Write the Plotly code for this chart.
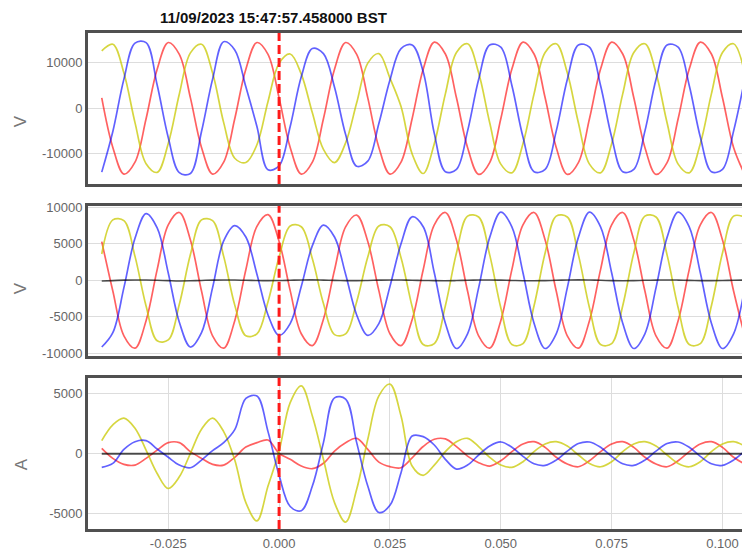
import plotly.graph_objects as go
from plotly.subplots import make_subplots

title_text = "11/09/2023 15:47:57.458000 BST"
unit_labels = ["V", "V", "A"]
x_tick_vals = [-0.025, 0.0, 0.025, 0.05, 0.075, 0.1]
x_tick_text = ["-0.025", "0.000", "0.025", "0.050", "0.075", "0.100"]
y1_ticks = [-10000, 0, 10000]
y2_ticks = [-10000, -5000, 0, 5000, 10000]
y3_ticks = [-5000, 0, 5000]

time_s = [-0.0400, -0.0375, -0.0350, -0.0325, -0.0300, -0.0275, -0.0250, -0.0225,
          -0.0200, -0.0175, -0.0150, -0.0125, -0.0100, -0.0075, -0.0050, -0.0025,
          0.0000, 0.0025, 0.0050, 0.0075, 0.0100, 0.0125, 0.0150, 0.0175,
          0.0200, 0.0225, 0.0250, 0.0275, 0.0300, 0.0325, 0.0350, 0.0375,
          0.0400, 0.0425, 0.0450, 0.0475, 0.0500, 0.0525, 0.0550, 0.0575,
          0.0600, 0.0625, 0.0650, 0.0675, 0.0700, 0.0725, 0.0750, 0.0775,
          0.0800, 0.0825, 0.0850, 0.0875, 0.0900, 0.0925, 0.0950, 0.0975,
          0.1000, 0.1025, 0.1050]

# Panel 1 - line voltages (V)
v_line_red = [2280, -8580, -14420, -11810, -2280, 8580, 14420, 11810,
              2280, -8580, -14420, -11810, -2280, 8580, 14420, 11810,
              2280, -8580, -14420, -11810, -2280, 8580, 14420, 11810,
              2280, -8580, -14420, -11810, -2280, 8580, 14500, 11900,
              2300, -8600, -14500, -11900, -2300, 8600, 14500, 11900,
              2300, -8600, -14500, -11900, -2300, 8600, 14500, 11900,
              2300, -8600, -14500, -11900, -2300, 8600, 14500, 11900,
              2300, -8600, -14500]
v_line_yellow = [12600, 14050, 7720, -3140, -12150, -14050, -7720, 3140,
                 12150, 14050, 7720, -3140, -10950, -11900, -8000, 1500,
                 9850, 11900, 7500, -1000, -9000, -11900, -7600, 1200,
                 9900, 12000, 6600, 370, -10000, -14300, -7770, 3160,
                 12240, 14150, 7770, -3160, -12240, -14150, -7770, 3160,
                 12240, 14150, 7770, -3160, -12240, -14150, -7770, 3160,
                 12240, 14150, 7770, -3160, -12240, -14150, -7770, 3160,
                 12240, 14150, 7770]
v_line_blue = [-14000, -5100, 6400, 14300, 14400, 5100, -6400, -14100,
               -14300, -5100, 6400, 14600, 12800, 4700, -4000, -13500,
               -12600, -4000, 6900, 13100, 12000, 4600, -5750, -12700,
               -11600, -3350, 6200, 13100, 13900, 8000, -5500, -13900,
               -13400, -5000, 6300, 13900, 13400, 5000, -6300, -13900,
               -13400, -5000, 6300, 13900, 13400, 5000, -6300, -13900,
               -13400, -5000, 6300, 13900, 13400, 5000, -6300, -13900,
               -13400, -5000, 6300]

# Panel 2 - phase voltages (V)
v_phase_red = [5300, -1470, -7600, -9290, -5530, 1470, 7600, 9290,
               5530, -1470, -7600, -9290, -5530, 1450, 7400, 9000,
               5320, -1410, -7320, -8940, -5320, 1410, 7320, 8940,
               5320, -1410, -7320, -8940, -5400, 1450, 7600, 9290,
               5530, -1470, -7600, -9290, -5530, 1470, 7600, 9290,
               5530, -1470, -7600, -9290, -5530, 1470, 7600, 9290,
               5530, -1470, -7600, -9290, -5530, 1470, 7600, 9290,
               5530, -1470, -7600]
v_phase_yellow = [3600, 8280, 8170, 3280, -3530, -8280, -8170, -3280,
                  3530, 8280, 8170, 3280, -3400, -7600, -7340, -2940,
                  3180, 7440, 7340, 2940, -3180, -7440, -7340, -2940,
                  3180, 7440, 7340, 3100, -3600, -8790, -8670, -3480,
                  3750, 8790, 8670, 3480, -3750, -8790, -8670, -3480,
                  3750, 8790, 8670, 3480, -3750, -8790, -8670, -3480,
                  3750, 8790, 8670, 3480, -3750, -8790, -8670, -3480,
                  3750, 8790, 8670]
v_phase_blue = [-9140, -7180, -1010, 5750, 9140, 7180, 1010, -5750,
                -9140, -7180, -1010, 5400, 7500, 5930, 840, -4750,
                -7550, -5930, -840, 4750, 7550, 5930, 840, -4750,
                -7550, -5930, -840, 5000, 8700, 7330, 1030, -5880,
                -9340, -7330, -1030, 5880, 9340, 7330, 1030, -5880,
                -9340, -7330, -1030, 5880, 9340, 7330, 1030, -5880,
                -9340, -7330, -1030, 5880, 9340, 7330, 1030, -5880,
                -9340, -7330, -1030]
v_neutral = [-90, -40, 20, 50, 40, 0, -50, -90, -70, -20,
             30, 50, 40, 0, -30, -40, -30, 10, 50, 60,
             30, -10, -40, -50, -20, 20, 50, 40, 10, -20,
             -50, -60, -30, 10, 40, 50, 20, -20, -60, -70,
             -40, 0, 40, 60, 40, 0, -40, -60, -40, 0,
             30, 50, 30, -10, -40, -50, -30, 10, 30]

# Panel 3 - currents (A)
i_red = [450, -390, -890, -950, -390, 300, 920, 920,
         170, -390, -890, -950, -300, 550, 920, 1140,
         30, -470, -1030, -1250, -800, 220, 920, 1280,
         360, -700, -1080, -1170, -350, 600, 1200, 1230,
         590, -200, -750, -1030, -590, 170, 810, 1000,
         530, -300, -860, -1090, -590, 170, 810, 1000,
         530, -300, -860, -1090, -590, 170, 810, 1000,
         530, -300, -860]
i_yellow = [1090, 2400, 2960, 2120, 300, -1650, -2900, -1930,
            30, 2040, 2960, 1840, -530, -4080, -5600, -2700,
            220, 4250, 5650, 3140, -470, -4080, -5700, -2970,
            1200, 4810, 5800, 3140, -1030, -1800, -950, 170,
            1000, 1280, 590, -300, -950, -1140, -670, 170,
            810, 1000, 640, -110, -810, -1090, -670, 170,
            810, 1000, 640, -110, -810, -1090, -670, 170,
            810, 1000, 640]
i_blue = [-1140, -810, 360, 1000, 1090, 390, -300, -950,
          -1170, -530, 250, 920, 2000, 4600, 4800, 1840,
          -1800, -4400, -4750, -2700, 920, 4650, 4550, 920,
          -2700, -4900, -4300, -1580, 1470, 1420, 725, -470,
          -1280, -950, -110, 640, 976, 536, -218, -844,
          -976, -536, 218, 844, 976, 536, -218, -844,
          -976, -536, 218, 844, 976, 536, -218, -844,
          -976, -536, 218]
i_neutral = [0, 0, 0, 0, 0, 0, 0, 0, 0, 0,
             0, 0, 0, 0, 0, 0, 0, 0, 0, 0,
             0, 0, 0, 0, 0, 0, 0, 0, 0, 0,
             0, 0, 0, 0, 0, 0, 0, 0, 0, 0,
             0, 0, 0, 0, 0, 0, 0, 0, 0, 0,
             0, 0, 0, 0, 0, 0, 0, 0, 0]

RED = "rgba(255,0,0,0.62)"
YEL = "rgba(200,200,0,0.75)"
BLU = "rgba(0,0,255,0.62)"
BLK = "rgba(0,0,0,0.68)"
FRAME = "#505050"
GRID = "#dddddd"

fig = make_subplots(rows=3, cols=1, shared_xaxes=True, vertical_spacing=0.03)


def add(row, values, color, width=1.7):
    fig.add_trace(go.Scatter(x=time_s, y=values, mode="lines",
                             line=dict(color=color, width=width, shape="spline", smoothing=1.0),
                             hoverinfo="skip", showlegend=False), row=row, col=1)


for vals, col in ((v_line_red, RED), (v_line_yellow, YEL), (v_line_blue, BLU)):
    add(1, vals, col)
for vals, col in ((v_phase_red, RED), (v_phase_yellow, YEL), (v_phase_blue, BLU)):
    add(2, vals, col)
add(2, v_neutral, BLK, 1.6)
for vals, col in ((i_red, RED), (i_yellow, YEL), (i_blue, BLU)):
    add(3, vals, col)
add(3, i_neutral, BLK, 2.0)

fig.add_vline(x=0, row="all", col=1, line=dict(color="#ff1a1a", width=3, dash="9px,4px"))

fig.update_layout(
    width=742, height=554,
    margin=dict(l=88, r=0, t=33, b=25),
    plot_bgcolor="white", paper_bgcolor="white",
    font=dict(family="Liberation Sans, Arial, sans-serif", size=13, color="#666666"),
    showlegend=False,
)

x_common = dict(range=[-0.0431, 0.1044], showline=True, linewidth=3, linecolor=FRAME,
                mirror=True, ticks="", zeroline=False)
fig.update_xaxes(**x_common, showgrid=False)
fig.update_xaxes(row=3, col=1, showgrid=True, gridcolor=GRID, gridwidth=1,
                 tickvals=x_tick_vals, ticktext=x_tick_text, showticklabels=True)

y_common = dict(showline=True, linewidth=3, linecolor=FRAME, mirror=False, ticks="",
                zeroline=False, showgrid=True, gridcolor=GRID, gridwidth=1)
fig.update_yaxes(**y_common)
fig.update_layout(
    yaxis=dict(domain=[0.6956, 1.0], range=[-16600, 16510], tickvals=y1_ticks,
               ticktext=[str(v) for v in y1_ticks]),
    yaxis2=dict(domain=[0.3494, 0.6512], range=[-10330, 10180], tickvals=y2_ticks,
                ticktext=[str(v) for v in y2_ticks]),
    yaxis3=dict(domain=[0.0, 0.3050], range=[-6275, 6330], tickvals=y3_ticks,
                ticktext=[str(v) for v in y3_ticks]),
)

fig.add_annotation(text="<b>" + title_text + "</b>", xref="paper", yref="paper",
                   x=0.2844, y=1.032, xanchor="center", yanchor="middle", showarrow=False,
                   font=dict(size=15, color="#111111", family="Liberation Sans, Arial, sans-serif"))

for lbl, ypos in zip(unit_labels, [0.8226, 0.4859, 0.1310]):
    fig.add_annotation(text=lbl, xref="paper", yref="paper", x=-0.102, y=ypos,
                       xanchor="center", yanchor="middle", textangle=-90, showarrow=False,
                       font=dict(size=17, color="#777777"))

fig.write_html("out.html")
